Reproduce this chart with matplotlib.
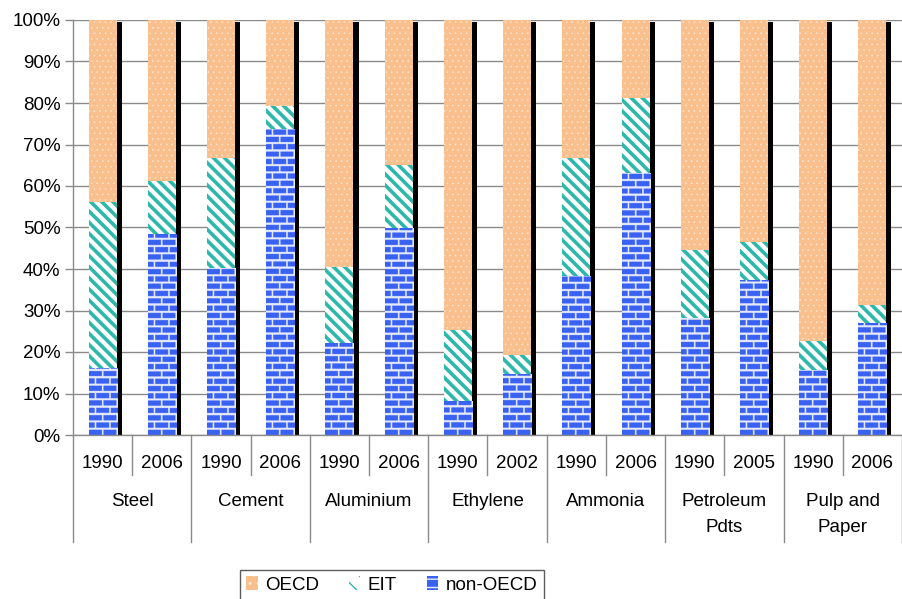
import numpy as np
import matplotlib
matplotlib.use("Agg")
import matplotlib.pyplot as plt
from matplotlib.patches import Patch

plt.rcParams['font.family'] = ['Liberation Sans', 'DejaVu Sans']

categories = ['Steel', 'Cement', 'Aluminium', 'Ethylene', 'Ammonia',
              'Petroleum\nPdts', 'Pulp and\nPaper']
years = ['1990', '2006', '1990', '2006', '1990', '2006', '1990', '2002',
         '1990', '2006', '1990', '2005', '1990', '2006']
non_oecd = [16.0, 48.4, 40.2, 73.5, 22.0, 49.8, 8.0, 14.5, 38.3, 63.0, 28.1, 37.3, 15.5, 26.9]
eit = [40.1, 12.8, 26.5, 5.8, 18.6, 15.3, 17.3, 4.8, 28.5, 18.1, 16.5, 9.1, 7.2, 4.4]
oecd = [43.9, 38.8, 33.3, 20.7, 59.4, 34.9, 74.7, 80.7, 33.2, 18.9, 55.4, 53.6, 77.3, 68.7]

ORANGE = '#f9c08e'
TEAL = '#2db8ab'
BLUE = '#3a62f2'
MORTAR = '#e6ebfb'
GRID = '#8a8a8a'
FS = 13.5

W, H, DPI = 903, 599, 100
fig = plt.figure(figsize=(W / DPI, H / DPI), dpi=DPI)
ax = fig.add_axes([73 / W, 164 / H, 829 / W, 415 / H])

x = np.arange(len(years))
bw = 0.473
sw = 0.085
ax.set_xlim(-0.5, len(years) - 0.5)
ax.set_ylim(0, 100)

non = np.array(non_oecd)
ei = np.array(eit)
oe = np.array(oecd)
total = non + ei + oe

# shadow
ax.bar(x + bw / 2 + sw / 2, total - 0.6, width=sw, color='black', lw=0, zorder=2)

# non-OECD (brick texture)
bars_non = ax.bar(x, non, width=bw, color=BLUE, lw=0, zorder=2)

with plt.rc_context({'hatch.linewidth': 2.6}):
    ax.bar(x, ei, bottom=non, width=bw, facecolor='white', edgecolor=TEAL,
           hatch='\\\\\\', lw=0, zorder=2)
with plt.rc_context({'hatch.linewidth': 0.4}):
    ax.bar(x, oe, bottom=non + ei, width=bw, facecolor=ORANGE, edgecolor='#fde6d2',
           hatch='...', lw=0, zorder=2)

# brick textures
blue_rgb = np.array(matplotlib.colors.to_rgb(BLUE))
mort_rgb = np.array(matplotlib.colors.to_rgb(MORTAR))
ss = 4
for b in bars_non:
    bb = b.get_window_extent()
    wpx = max(int(round(bb.width * ss)), 1)
    hpx = max(int(round(bb.height * ss)), 1)
    yy = (np.arange(hpx) + 0.5) / ss
    xx = (np.arange(wpx) + 0.5) / ss
    row = np.floor(yy / 7.3).astype(int)
    ymod = yy % 7.3
    tex = np.zeros((hpx, wpx, 3))
    for i in range(hpx):
        off = 7.0 if row[i] % 2 else 0.0
        xm = (xx + off) % 14.0
        isblue = (ymod[i] < 5.2) & (xm < 12.4)
        tex[i] = np.where(isblue[:, None], blue_rgb, mort_rgb)
    x0 = b.get_x()
    ax.imshow(tex, extent=(x0, x0 + b.get_width(), b.get_y(), b.get_y() + b.get_height()),
              origin='lower', aspect='auto', interpolation='antialiased', zorder=2.5)

ax.set_xlim(-0.5, len(years) - 0.5)
ax.set_ylim(0, 100)

# axes styling
ax.set_yticks(np.arange(0, 101, 10))
ax.set_yticklabels([f'{v}%' for v in range(0, 101, 10)], fontsize=FS)
ax.tick_params(axis='y', length=6, width=1, color=GRID, pad=3)
ax.set_xticks([])
ax.yaxis.grid(True, color=GRID, lw=1)
ax.set_axisbelow(True)
for s in ['top', 'right']:
    ax.spines[s].set_visible(False)
ax.spines['left'].set_color(GRID)
ax.spines['bottom'].set_color(GRID)
ax.spines['left'].set_linewidth(1)
ax.spines['bottom'].set_linewidth(1)

# multi-level x labels
tr = ax.get_xaxis_transform()
axh = 415.0
def ay(py):
    return (435.0 - py) / axh

for xi, yr in zip(x, years):
    ax.text(xi, ay(463), yr, transform=tr, ha='center', va='center', fontsize=FS)
for gi, cat in enumerate(categories):
    for li, line in enumerate(cat.split('\n')):
        ax.text(2 * gi + 0.5, ay(501 + 26 * li), line, transform=tr, ha='center',
                va='center', fontsize=FS)
for gi in range(len(categories)):
    ax.plot([2 * gi + 0.5] * 2, [0, ay(475)], transform=tr, color=GRID, lw=1, clip_on=False)
for gi in range(len(categories) + 1):
    ax.plot([2 * gi - 0.5] * 2, [0, ay(542)], transform=tr, color=GRID, lw=1, clip_on=False)

# legend
handles = [Patch(facecolor=ORANGE, edgecolor='#fde6d2', hatch='..', lw=0, label='OECD'),
           Patch(facecolor='white', edgecolor=TEAL, hatch='\\\\', lw=0, label='EIT'),
           Patch(facecolor=BLUE, edgecolor=MORTAR, hatch='--', lw=0, label='non-OECD')]
leg = fig.legend(handles=handles, loc='center', bbox_to_anchor=(392 / W, 1 - 585 / H),
                 ncol=3, fontsize=FS, frameon=True, fancybox=False, edgecolor='#333333',
                 handlelength=0.6, handleheight=0.7, handletextpad=0.4, columnspacing=1.6,
                 borderpad=0.35, borderaxespad=0)
leg.get_frame().set_linewidth(1)

fig.savefig('out.png', dpi=DPI)
